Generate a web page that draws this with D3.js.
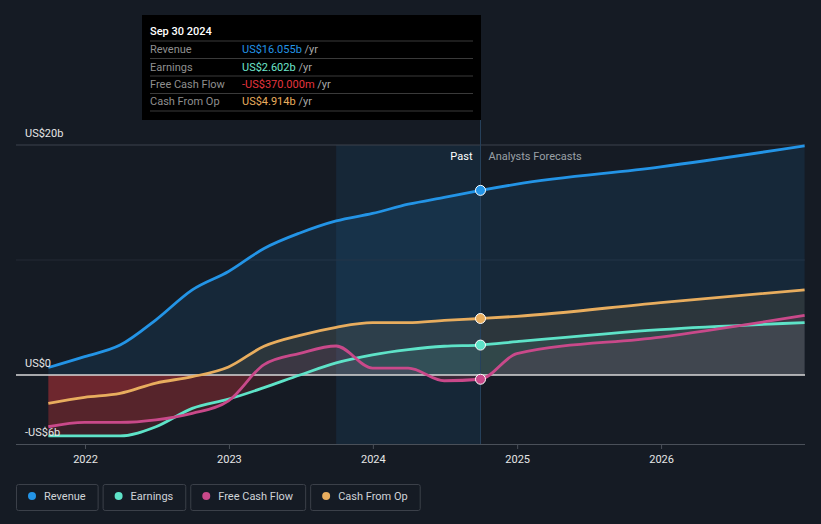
<!DOCTYPE html>
<html>
<head>
<meta charset="utf-8">
<script src="https://cdn.jsdelivr.net/npm/d3@7"></script>
<style>
  html, body { margin: 0; padding: 0; background: #151b24; }
  svg { display: block; font-family: Roboto, "Noto Sans", sans-serif; }
</style>
</head>
<body>
<svg id="chart" width="821" height="524"></svg>
<script>
// ---------- data ----------
const dates = ["2021-09-30","2021-12-31","2022-03-31","2022-06-30","2022-09-30","2022-12-31",
               "2023-03-31","2023-06-30","2023-09-30","2023-12-31","2024-03-31","2024-06-30","2024-09-30",
               "2024-12-31","2025-12-31","2026-12-31"];
const revenue  = [0.65, 1.6, 2.6, 4.8, 7.4, 9.0, 11.0, 12.35, 13.4, 14.05, 14.85, 15.45, 16.055, 16.6, 18.1, 19.93];
const earnings = [-5.3, -5.3, -5.3, -4.5, -2.9, -2.1, -1.1, 0.0, 1.05, 1.75, 2.2, 2.5, 2.602, 2.9, 3.95, 4.55];
const fcf      = [-4.5, -4.12, -4.12, -3.9, -3.33, -2.25, 0.9, 1.88, 2.52, 0.6, 0.6, -0.5, -0.37, 1.85, 3.3, 5.18];
const cfo      = [-2.46, -1.95, -1.6, -0.7, -0.15, 0.7, 2.5, 3.45, 4.15, 4.55, 4.55, 4.75, 4.914, 5.1, 6.3, 7.4];
const seriesNames = ["Revenue", "Earnings", "Free Cash Flow", "Cash From Op"];
const seriesColors = ["#2394e6", "#5ee3c8", "#c9498a", "#e8ad5e"];
const tooltipValues = ["US$16.055b", "US$2.602b", "-US$370.000m", "US$4.914b"];
const tooltipColors = ["#2394e6", "#6ee6cd", "#e5353f", "#e8ad5e"];
const tooltipDate = "Sep 30 2024";
const yearTicks = ["2022-01-01","2023-01-01","2024-01-01","2025-01-01","2026-01-01"];
const yTickValues = [20, 0, -6];
const yTickLabels = ["US$20b", "US$0", "-US$6b"];
const pastStart = "2023-09-30", pastEnd = "2024-09-30";

(function () {
const parse = d3.timeParse("%Y-%m-%d");
const svg = d3.select("#chart");
const W = 821, H = 524;
const pL = 16, pR = 805, pT = 145, pB = 444;

const x = d3.scaleTime().domain([parse("2021-07-10"), parse("2027-01-01")]).range([pL, pR]);
const y = d3.scaleLinear().domain([-6, 20]).range([pB, pT]);

svg.append("rect").attr("width", W).attr("height", H).attr("fill", "#151b24");

const defs = svg.append("defs");
defs.append("clipPath").attr("id", "clipPos").append("rect")
  .attr("x", pL).attr("y", 0).attr("width", pR - pL).attr("height", y(0));
defs.append("clipPath").attr("id", "clipNeg").append("rect")
  .attr("x", pL).attr("y", y(0)).attr("width", pR - pL).attr("height", pB - y(0));

// past highlight
svg.append("rect")
  .attr("x", x(parse(pastStart))).attr("y", pT)
  .attr("width", x(parse(pastEnd)) - x(parse(pastStart))).attr("height", pB - pT)
  .attr("fill", "rgba(35,148,230,0.10)");

// gridlines
svg.append("line").attr("x1", pL).attr("x2", pR).attr("y1", y(20)).attr("y2", y(20))
  .attr("stroke", "#3d434c").attr("stroke-width", 1);
svg.append("line").attr("x1", pL).attr("x2", pR).attr("y1", y(10)).attr("y2", y(10))
  .attr("stroke", "#252b34").attr("stroke-width", 1);

const allSeries = [revenue, earnings, fcf, cfo];
const pts = allSeries.map(vals => vals.map((v, i) => ({ d: parse(dates[i]), v })));

const area = d3.area().x(p => x(p.d)).y0(y(0)).y1(p => y(p.v)).curve(d3.curveMonotoneX);
const line = d3.line().x(p => x(p.d)).y(p => y(p.v)).curve(d3.curveMonotoneX);

const posFill = ["rgba(35,148,230,0.11)", "rgba(94,227,200,0.10)", "rgba(201,73,138,0.10)", "rgba(232,173,94,0.11)"];
[0, 3, 1, 2].forEach(i => {
  svg.append("path").attr("d", area(pts[i])).attr("fill", posFill[i]).attr("clip-path", "url(#clipPos)");
  svg.append("path").attr("d", area(pts[i])).attr("fill", "rgba(224,53,63,0.18)").attr("clip-path", "url(#clipNeg)");
});

// zero line
svg.append("line").attr("x1", pL).attr("x2", pR).attr("y1", y(0)).attr("y2", y(0))
  .attr("stroke", "#d8d8d8").attr("stroke-width", 1.3);

// bottom axis
const xAxis = d3.axisBottom(x).tickValues(yearTicks.map(parse)).tickFormat(d3.timeFormat("%Y")).tickSize(5).tickSizeOuter(0);
const gx = svg.append("g").attr("transform", `translate(0,${pB})`).call(xAxis);
gx.select(".domain").attr("stroke", "#4a5059").attr("d", `M${pL},0.5H${pR}`);
gx.selectAll(".tick line").attr("stroke", "#4a5059");
gx.selectAll(".tick text").attr("fill", "#e6e6e6").attr("font-size", 11).attr("font-family", "Roboto").attr("dy", "1.0em");

// past/forecast vertical line
svg.append("line").attr("x1", x(parse(pastEnd))).attr("x2", x(parse(pastEnd)))
  .attr("y1", 15).attr("y2", pB).attr("stroke", "#27415c").attr("stroke-width", 1);

[0, 3, 1, 2].forEach(i => {
  svg.append("path").attr("d", line(pts[i])).attr("fill", "none")
    .attr("stroke", seriesColors[i]).attr("stroke-width", 2.8).attr("stroke-linejoin", "round");
});

const mIdx = dates.indexOf(pastEnd);
[0, 3, 1, 2].forEach(i => {
  svg.append("circle").attr("cx", x(pts[i][mIdx].d)).attr("cy", y(pts[i][mIdx].v)).attr("r", 5)
    .attr("fill", seriesColors[i]).attr("stroke", "#ffffff").attr("stroke-width", 1);
});

yTickValues.forEach((v, i) => {
  svg.append("text").attr("x", 25).attr("y", y(v) - 8).attr("fill", "#e6e6e6")
    .attr("font-size", 11).text(yTickLabels[i]);
});

svg.append("text").attr("x", x(parse(pastEnd)) - 8).attr("y", 160).attr("text-anchor", "end")
  .attr("fill", "#ffffff").attr("font-size", 11).text("Past");
svg.append("text").attr("x", x(parse(pastEnd)) + 8).attr("y", 160)
  .attr("fill", "#9aa0a6").attr("font-size", 11).text("Analysts Forecasts");

// tooltip
const tt = svg.append("g");
tt.append("rect").attr("x", 142).attr("y", 15).attr("width", 339).attr("height", 105).attr("fill", "#000000");
tt.append("text").attr("x", 150).attr("y", 35).attr("fill", "#ffffff").attr("font-size", 11)
  .attr("font-weight", 500).text(tooltipDate);
[41, 58.5, 76, 93.5, 111].forEach(sy => tt.append("line").attr("x1", 150).attr("x2", 473).attr("y1", sy).attr("y2", sy)
  .attr("stroke", "#3a3a3a").attr("stroke-width", 1));
const rowY = [53, 70.5, 88, 105];
seriesNames.forEach((n, i) => {
  tt.append("text").attr("x", 150).attr("y", rowY[i]).attr("fill", "#8f8f8f").attr("font-size", 11).text(n);
  const t = tt.append("text").attr("x", 242).attr("y", rowY[i]).attr("font-size", 11);
  t.append("tspan").attr("fill", tooltipColors[i]).text(tooltipValues[i]);
  t.append("tspan").attr("fill", "#a8a8a8").text(" /yr");
});

// legend
let lx = 16;
seriesNames.forEach((n, i) => {
  const g = svg.append("g");
  const txt = g.append("text").attr("x", lx + 28).attr("y", 500).attr("fill", "#d0d3d8")
    .attr("font-size", 11).text(n);
  const tw = txt.node().getComputedTextLength();
  const bw = 28 + tw + 12;
  g.insert("rect", "text").attr("x", lx + 0.5).attr("y", 484.5).attr("width", bw).attr("height", 26)
    .attr("rx", 2).attr("fill", "none").attr("stroke", "#3b4049");
  g.append("circle").attr("cx", lx + 16).attr("cy", 496).attr("r", 4).attr("fill", seriesColors[i]);
  lx += bw + 5;
});
})();
</script>
</body>
</html>
